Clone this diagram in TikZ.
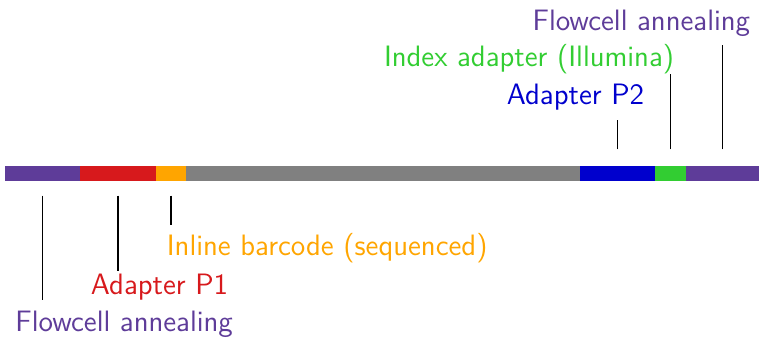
\documentclass[tikz,border=0pt]{standalone}
\usepackage{tikz}
\definecolor{cpurple}{HTML}{5E3C99}
\definecolor{cred}{HTML}{D7191C}
\definecolor{corange}{HTML}{FFA500}
\definecolor{cgray}{HTML}{808080}
\definecolor{cblue}{HTML}{0000CD}
\definecolor{cgreen}{HTML}{32CD32}
\begin{document}
\begin{tikzpicture}[x=0.5pt,y=-0.5pt,
  lbl/.style={inner sep=0pt,font=\sffamily\fontsize{14.75}{17}\selectfont},
  tick/.style={draw=black,line width=0.65pt}]
\useasboundingbox (0,0) rectangle (759,337);
% bar segments
\fill[cpurple] (5,165.5) rectangle (80.3,180.5);
\fill[cred] (80.3,165.5) rectangle (156,180.5);
\fill[corange] (156,165.5) rectangle (186,180.5);
\fill[cgray] (186,165.5) rectangle (580,180.5);
\fill[cblue] (580,165.5) rectangle (655,180.5);
\fill[cgreen] (655,165.5) rectangle (686,180.5);
\fill[cpurple] (686,165.5) rectangle (759,180.5);
% labels below
\node[lbl,text=corange,anchor=base west] (bc) at (166.5,255.7) {Inline barcode (sequenced)};
\node[lbl,text=cred,anchor=base west] (p1) at (90.5,294) {Adapter P1};
\node[lbl,text=cpurple,anchor=base west] (fa1) at (15,331.7) {Flowcell annealing};
% labels above
\node[lbl,text=cpurple,anchor=base east] (fa2) at (750.5,31) {Flowcell annealing};
\node[lbl,text=cgreen,anchor=base east] (ix) at (674.5,66) {Index adapter (Illumina)};
\node[lbl,text=cblue,anchor=base east] (p2) at (644.5,104) {Adapter P2};
% tick coordinates
\coordinate (t1a) at (42.7,195.7); \coordinate (t1b) at (42.7,300);
\coordinate (t2a) at (118,195.7);  \coordinate (t2b) at (118,270.7);
\coordinate (t3a) at (171,195.7);  \coordinate (t3b) at (171,225);
\coordinate (u1a) at (617.3,149.3); \coordinate (u1b) at (617.3,120);
\coordinate (u2a) at (670.5,149.3); \coordinate (u2b) at (670.5,74);
\coordinate (u3a) at (722.7,149.3); \coordinate (u3b) at (722.7,45);
\draw[tick] (t1a) -- (t1b);
\draw[tick] (t2a) -- (t2b);
\draw[tick] (t3a) -- (t3b);
\draw[tick] (u1a) -- (u1b);
\draw[tick] (u2a) -- (u2b);
\draw[tick] (u3a) -- (u3b);
\end{tikzpicture}
\end{document}
